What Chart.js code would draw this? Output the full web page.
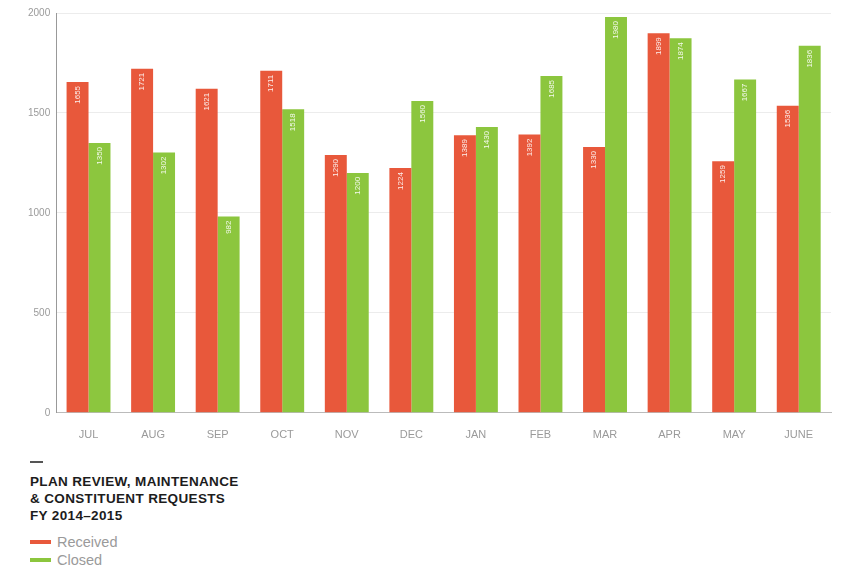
<!DOCTYPE html>
<html>
<head>
<meta charset="utf-8">
<script src="https://cdn.jsdelivr.net/npm/chart.js@4"></script>
<style>
  html, body { margin: 0; padding: 0; background: #fff; }
  body { width: 846px; height: 567px; position: relative; overflow: hidden; font-family: "Liberation Sans", Arial, sans-serif; }
  #wrap { position: absolute; left: 0; top: 0; width: 846px; height: 450px; }
  #notes { position: absolute; left: 30px; top: 461px; }
  .dash { width: 13px; height: 2px; background: #555; margin-bottom: 10px; }
  .title { font-weight: bold; font-size: 13.5px; line-height: 17px; color: #1c1c1c; letter-spacing: 0.35px; }
  .item { font-size: 14.5px; line-height: 18px; color: #9a9a9a; display: flex; align-items: center; }
  .sw { width: 21px; height: 4px; margin-right: 6px; }
</style>
</head>
<body>
<div id="wrap"><canvas id="c" width="846" height="450"></canvas></div>
<div id="notes">
  <div class="dash"></div>
  <div class="title">PLAN REVIEW, MAINTENANCE<br>&amp; CONSTITUENT REQUESTS<br>FY 2014–2015</div>
  <div class="item" style="margin-top:9px"><span class="sw" style="background:#e8583b"></span>Received</div>
  <div class="item"><span class="sw" style="background:#8cc63e"></span>Closed</div>
</div>
<script>
// Monatswerte FY 2014-2015
const months = ['JUL', 'AUG', 'SEP', 'OCT', 'NOV', 'DEC', 'JAN', 'FEB', 'MAR', 'APR', 'MAY', 'JUNE'];
const received = [1655, 1721, 1621, 1711, 1290, 1224, 1389, 1392, 1330, 1899, 1259, 1536];
const closed = [1350, 1302, 982, 1518, 1200, 1560, 1430, 1685, 1980, 1874, 1667, 1836];
const yTicks = [0, 500, 1000, 1500, 2000];

const RED = '#e8583b';
const GREEN = '#8cc63e';

// weisse, senkrechte Zahl oben im Balken
const barLabels = {
    id: 'barLabels',
    afterDatasetsDraw(chart) {
        const ctx = chart.ctx;
        ctx.save();
        ctx.fillStyle = 'rgba(255,255,255,0.9)';
        ctx.font = '8px "Liberation Sans", Arial, sans-serif';
        ctx.textAlign = 'right';
        ctx.textBaseline = 'middle';
        chart.data.datasets.forEach((ds, i) => {
            chart.getDatasetMeta(i).data.forEach((bar, j) => {
                ctx.save();
                ctx.translate(bar.x, bar.y + 4);
                ctx.rotate(-Math.PI / 2);
                ctx.fillText(String(ds.data[j]), 0, 0);
                ctx.restore();
            });
        });
        ctx.restore();
    }
};

new Chart(document.getElementById('c'), {
    type: 'bar',
    data: {
        labels: months,
        datasets: [
            { label: 'Received', data: received, backgroundColor: RED },
            { label: 'Closed', data: closed, backgroundColor: GREEN }
        ]
    },
    options: {
        responsive: false,
        animation: false,
        layout: { padding: { left: 22, right: 15, top: 13, bottom: 0 } },
        datasets: { bar: { barPercentage: 1.0, categoryPercentage: 0.68 } },
        plugins: { legend: { display: false }, tooltip: { enabled: false } },
        scales: {
            x: {
                grid: { display: false },
                border: { display: true, color: '#bbb' },
                ticks: { color: '#9a9a9a', font: { size: 11, family: '"Liberation Sans", Arial, sans-serif' }, padding: 8 }
            },
            y: {
                min: 0,
                max: 2000,
                afterBuildTicks: axis => { axis.ticks = yTicks.map(v => ({ value: v })); },
                grid: { color: '#ececec', drawTicks: false },
                border: { display: true, color: '#999', dash: [] },
                ticks: {
                    color: '#9a9a9a',
                    font: { size: 10, family: '"Liberation Sans", Arial, sans-serif' },
                    padding: 6,
                    callback: v => String(v)
                }
            }
        }
    },
    plugins: [barLabels]
});
</script>
</body>
</html>
